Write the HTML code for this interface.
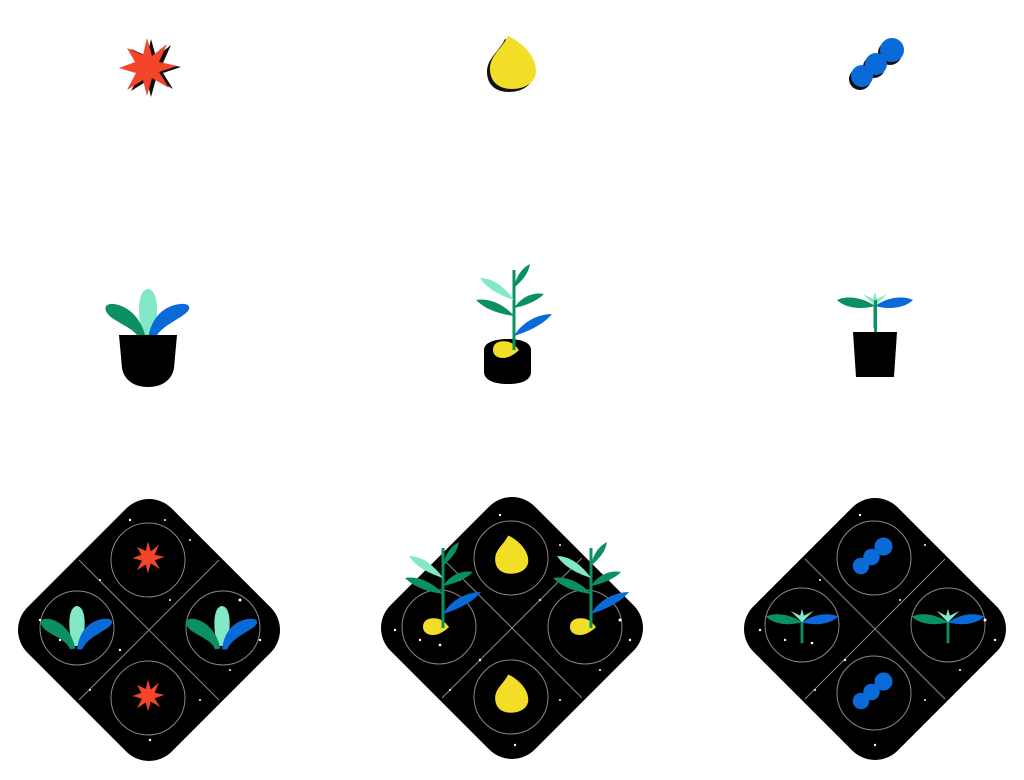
<!DOCTYPE html>
<html><head><meta charset="utf-8"><style>html,body{margin:0;padding:0;background:#fff}svg{display:block}</style></head>
<body>
<svg width="1024" height="780" viewBox="0 0 1024 780" xmlns="http://www.w3.org/2000/svg">
<defs>
<g id="star">
<polygon fill="#111" transform="translate(4,1)" points="0,-30 5,-12 20,-24 12,-6 30,-2 12,4 22,20 5,10 0,28 -4,12 -20,22 -11,5 -28,0 -12,-6 -20,-20 -4,-13"/>
<polygon fill="#f4452a" points="0,-30 5,-12 20,-24 12,-6 30,-2 12,4 22,20 5,10 0,28 -4,12 -20,22 -11,5 -28,0 -12,-6 -20,-20 -4,-13"/>
</g>
<path id="dropshape" d="M-4,-27 C4,-24 24,-10 24,8 C24,20 12,26 0,26 C-14,26 -22,18 -22,6 C-22,-8 -10,-14 -4,-27Z"/>
<g id="drop">
<use href="#dropshape" transform="translate(-3,3)" fill="#111"/>
<use href="#dropshape" fill="#f2dd27"/>
</g>
<g id="balls">
<g fill="#111" transform="translate(-2,3)"><circle cx="-16" cy="12" r="11"/><circle cx="-2" cy="0" r="11"/><circle cx="14" cy="-14" r="12"/></g>
<g fill="#0a6ad8"><circle cx="-16" cy="12" r="11"/><circle cx="-2" cy="0" r="11"/><circle cx="14" cy="-14" r="12"/></g>
</g>
<g id="fan">
<path fill="#83e8c6" d="M-5,0 C-11,-20 -11,-46 0,-47 C11,-46 11,-20 5,0Z"/>
<path fill="#0b8f64" d="M-2,3 C-6,-18 -20,-30 -34,-32 C-44,-33 -46,-26 -36,-18 C-24,-10 -12,-6 -8,4Z"/>
<path fill="#0a6ad8" d="M0,4 C2,-16 14,-30 32,-32 C44,-33 44,-26 34,-20 C22,-12 12,-8 6,4Z"/>
</g>
<g id="sprout">
<rect x="-1.5" y="-14" width="3" height="30" fill="#0b8f64"/>
<path fill="#0b8f64" d="M0,-6 C-14,-16 -30,-16 -38,-12 C-30,-4 -14,-2 0,-6Z"/>
<path fill="#0a6ad8" d="M0,-6 C14,-16 30,-16 38,-12 C30,-4 14,-2 0,-6Z"/>
<path fill="#83e8c6" d="M0,-6 L-12,-18 L-2,-13 L0,-20 L2,-13 L12,-18Z"/>
</g>
<g id="tall">
<rect x="-1.5" y="-80" width="3" height="80" fill="#0b8f64"/>
<path fill="#83e8c6" d="M0,-50 C-10,-64 -22,-72 -34,-72 C-26,-60 -12,-54 0,-50Z"/>
<path fill="#0b8f64" d="M0,-34 C-12,-48 -28,-52 -38,-50 C-28,-40 -14,-36 0,-34Z"/>
<path fill="#0b8f64" d="M0,-62 C2,-74 8,-82 16,-86 C14,-74 6,-68 0,-62Z"/>
<path fill="#0b8f64" d="M0,-42 C8,-54 20,-58 30,-56 C22,-48 10,-44 0,-42Z"/>
<path fill="#0a6ad8" d="M0,-14 C8,-28 24,-36 38,-36 C28,-24 12,-18 0,-14Z"/>
</g>
<g id="seed"><path fill="#f2dd27" d="M-12,0 C-12,-8 -4,-10 4,-8 C10,-6 12,-2 14,0 C10,4 4,8 -2,8 C-8,8 -12,5 -12,0Z"/></g>
</defs>

<use href="#star" x="147" y="68"/>
<use href="#drop" x="512" y="63"/>
<use href="#balls" x="878" y="64"/>

<use href="#fan" x="148" y="336"/>
<path d="M119,335 L177,335 L174,368 C172,380 162,387 148,387 C134,387 124,380 122,368Z" fill="#000"/>
<path d="M484,350 C484,342 496,339 508,339 C520,339 531,342 531,350 L531,372 C531,380 522,384 508,384 C494,384 484,380 484,372Z" fill="#000"/>
<use href="#seed" x="505" y="350"/>
<use href="#tall" x="514" y="350"/>
<use href="#sprout" x="875" y="312"/>
<rect x="874" y="300" width="3" height="33" fill="#0b8f64"/>
<polygon points="853,332 897,332 894,377 856,377" fill="#000"/>

<rect x="47" y="528" width="204" height="204" rx="32" fill="#000" transform="rotate(45 149 630)"/>
<rect x="410" y="526" width="204" height="204" rx="32" fill="#000" transform="rotate(45 512 628)"/>
<rect x="773" y="527" width="204" height="204" rx="32" fill="#000" transform="rotate(45 875 629)"/>

<g stroke="#888" stroke-width="1" fill="none">
<line x1="79" y1="560" x2="219" y2="700"/><line x1="219" y1="560" x2="79" y2="700"/>
<circle cx="148" cy="560" r="37"/><circle cx="77" cy="628" r="37"/><circle cx="223" cy="628" r="37"/><circle cx="148" cy="698" r="37"/>
<line x1="442" y1="558" x2="582" y2="698"/><line x1="582" y1="558" x2="442" y2="698"/>
<circle cx="511" cy="558" r="37"/><circle cx="439" cy="627" r="37"/><circle cx="585" cy="627" r="37"/><circle cx="511" cy="697" r="37"/>
<line x1="805" y1="559" x2="945" y2="699"/><line x1="945" y1="559" x2="805" y2="699"/>
<circle cx="874" cy="558" r="37"/><circle cx="802" cy="625" r="37"/><circle cx="948" cy="625" r="37"/><circle cx="874" cy="693" r="37"/>
</g>

<g fill="#fff">
<circle cx="60" cy="640" r="1.2"/><circle cx="100" cy="580" r="1"/><circle cx="130" cy="520" r="1.2"/><circle cx="190" cy="540" r="1"/><circle cx="240" cy="600" r="1.5"/><circle cx="260" cy="640" r="1.2"/><circle cx="200" cy="700" r="1"/><circle cx="150" cy="740" r="1.2"/><circle cx="90" cy="690" r="1"/><circle cx="40" cy="620" r="1.2"/><circle cx="170" cy="600" r="1"/><circle cx="120" cy="650" r="1.2"/><circle cx="230" cy="670" r="1"/><circle cx="75" cy="610" r="1.3"/><circle cx="165" cy="520" r="1"/>
<circle cx="420" cy="640" r="1.2"/><circle cx="460" cy="580" r="1"/><circle cx="500" cy="515" r="1.2"/><circle cx="560" cy="545" r="1"/><circle cx="620" cy="620" r="1.5"/><circle cx="630" cy="640" r="1.2"/><circle cx="560" cy="700" r="1"/><circle cx="515" cy="745" r="1.2"/><circle cx="450" cy="690" r="1"/><circle cx="395" cy="630" r="1.2"/><circle cx="540" cy="600" r="1"/><circle cx="480" cy="660" r="1.2"/><circle cx="600" cy="670" r="1"/><circle cx="440" cy="645" r="1.3"/>
<circle cx="785" cy="640" r="1.2"/><circle cx="820" cy="580" r="1"/><circle cx="860" cy="515" r="1.2"/><circle cx="925" cy="545" r="1"/><circle cx="985" cy="620" r="1.5"/><circle cx="995" cy="640" r="1.2"/><circle cx="925" cy="700" r="1"/><circle cx="875" cy="745" r="1.2"/><circle cx="815" cy="690" r="1"/><circle cx="760" cy="630" r="1.2"/><circle cx="900" cy="600" r="1"/><circle cx="845" cy="660" r="1.2"/><circle cx="960" cy="670" r="1"/><circle cx="812" cy="643" r="1.3"/>
</g>

<g transform="translate(148,558) scale(0.55)"><polygon fill="#f4452a" points="0,-30 5,-12 20,-24 12,-6 30,-2 12,4 22,20 5,10 0,28 -4,12 -20,22 -11,5 -28,0 -12,-6 -20,-20 -4,-13"/></g>
<g transform="translate(148,696) scale(0.55)"><polygon fill="#f4452a" points="0,-30 5,-12 20,-24 12,-6 30,-2 12,4 22,20 5,10 0,28 -4,12 -20,22 -11,5 -28,0 -12,-6 -20,-20 -4,-13"/></g>
<g transform="translate(77,646) scale(0.85)"><use href="#fan"/></g>
<g transform="translate(222,646) scale(0.85)"><use href="#fan"/></g>

<g transform="translate(511,555) scale(0.72)"><use href="#dropshape" fill="#f2dd27"/></g>
<g transform="translate(511,694) scale(0.72)"><use href="#dropshape" fill="#f2dd27"/></g>
<use href="#seed" x="435" y="627"/>
<use href="#tall" x="443" y="628"/>
<use href="#seed" x="582" y="627"/>
<use href="#tall" x="591" y="628"/>

<g transform="translate(873,557) scale(0.75)"><g fill="#0a6ad8"><circle cx="-16" cy="12" r="11"/><circle cx="-2" cy="0" r="11"/><circle cx="14" cy="-14" r="12"/></g></g>
<g transform="translate(873,692) scale(0.75)"><g fill="#0a6ad8"><circle cx="-16" cy="12" r="11"/><circle cx="-2" cy="0" r="11"/><circle cx="14" cy="-14" r="12"/></g></g>
<g transform="translate(802,628) scale(0.95)"><use href="#sprout"/></g>
<g transform="translate(948,628) scale(0.95)"><use href="#sprout"/></g>
</svg>
</body></html>
